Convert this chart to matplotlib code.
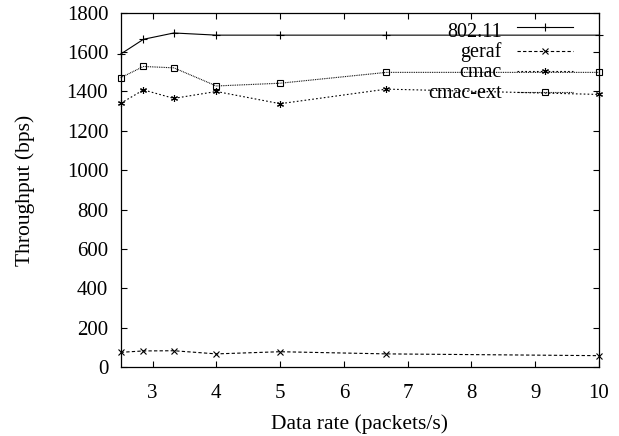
import numpy as np
import matplotlib
matplotlib.use("Agg")
import matplotlib.pyplot as plt

# packet rates (1 / interval)
rates = [2.5, 20 / 7, 10 / 3, 4, 5, 20 / 3, 10]

tput_80211 = [1590, 1665, 1697, 1686, 1686, 1686, 1686]
tput_geraf = [76, 83, 84, 68, 79, 68, 59]
tput_cmac = [1340, 1408, 1365, 1400, 1338, 1412, 1385]
tput_cmac_ext = [1470, 1527, 1520, 1428, 1442, 1497, 1497]

labels = ["802.11", "geraf", "cmac", "cmac-ext"]

plt.rcParams['font.family'] = ['Liberation Serif', 'DejaVu Serif']


def main():
	fig = plt.figure(figsize=(6.19, 4.36), dpi=100)
	ax = fig.add_axes([0.195, 0.1576, 0.7727, 0.8133])

	styles = [
		dict(ls='-', marker='+', ms=6, mew=0.8),
		dict(ls=(0, (3, 2)), marker='x', ms=4, mew=0.8),
		dict(ls=(0, (1.5, 2)), marker=(6, 2, 0), ms=5, mew=0.8),
		dict(ls=(0, (0.8, 0.8)), marker='s', ms=4, mew=0.8, mfc='none'),
	]
	series = [tput_80211, tput_geraf, tput_cmac, tput_cmac_ext]

	for ys, st in zip(series, styles):
		ax.plot(rates, ys, color='black', lw=0.8, clip_on=False, **st)

	# gnuplot-style key: label right-aligned, sample on the right
	key_text_y = [0.932, 0.875, 0.818, 0.759]
	key_line_y = [0.959, 0.893, 0.836, 0.777]
	for lab, st, ty, ly in zip(labels, styles, key_text_y, key_line_y):
		ax.text(0.797, ty, lab, transform=ax.transAxes, ha='right', va='baseline',
			fontsize=14.5)
		ax.plot([0.829, 0.946], [ly, ly], transform=ax.transAxes, color='black',
			lw=0.8, ls=st['ls'], clip_on=False)
		mst = {k: v for k, v in st.items() if k != 'ls'}
		ax.plot([0.887], [ly], transform=ax.transAxes, color='black', ls='none',
			clip_on=False, **mst)

	ax.set_xlim(2.5, 10)
	ax.set_ylim(0, 1800)
	ax.set_xticks([3, 4, 5, 6, 7, 8, 9, 10])
	ax.set_yticks(np.arange(0, 1801, 200))
	ax.tick_params(direction='in', length=4, width=0.8, top=True, right=True,
		labelsize=15)
	ax.tick_params(axis='x', pad=12)
	ax.tick_params(axis='y', pad=9)
	for sp in ax.spines.values():
		sp.set_linewidth(0.9)

	ax.set_xlabel('Data rate (packets/s)', fontsize=15.5, labelpad=8.5)
	ax.set_ylabel('Throughput (bps)', fontsize=15.5, labelpad=23)

	fig.savefig('out.png', dpi=100)


if __name__ == "__main__":
	main()
